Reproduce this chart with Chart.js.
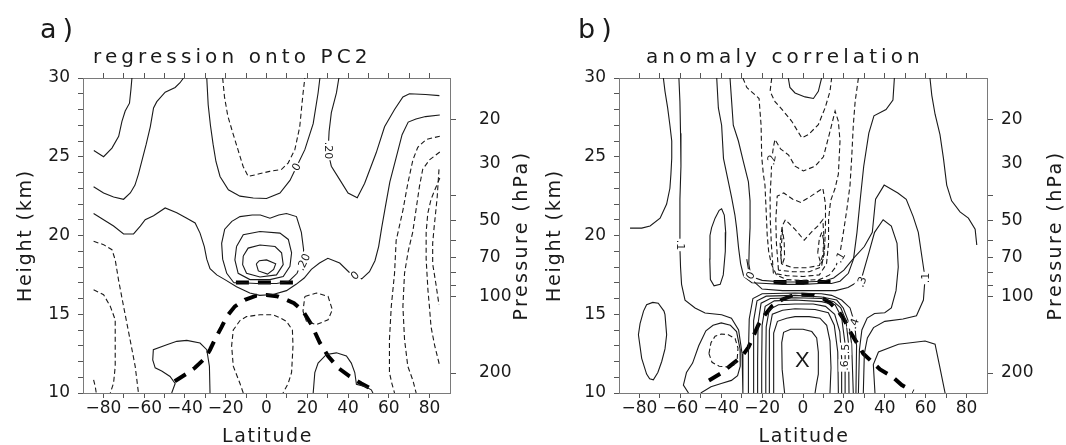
<!DOCTYPE html>
<html>
<head>
<meta charset="utf-8">
<script src="https://cdn.jsdelivr.net/npm/chart.js@4.4.1/dist/chart.umd.min.js"></script>
<style>
  html, body { margin: 0; padding: 0; background: #fff; }
  #wrap { position: relative; width: 1066px; height: 445px; overflow: hidden; }
  .panel { position: absolute; top: 0; width: 533px; height: 445px; }
</style>
</head>
<body>
<div id="wrap">
  <div class="panel" style="left:0"><canvas id="ca" width="533" height="445"></canvas></div>
  <div class="panel" style="left:533px"><canvas id="cb" width="533" height="445"></canvas></div>
</div>
<script>
// ---------- axes ----------
const latTicks = [-80,-70,-60,-50,-40,-30,-20,-10,0,10,20,30,40,50,60,70,80];
const latLabels = [-80,-60,-40,-20,0,20,40,60,80];
const kmTicks = [10,11,12,13,14,15,16,17,18,19,20,21,22,23,24,25,26,27,28,29,30];
const kmLabels = [10,15,20,25,30];
const pressureTicks = [20,30,40,50,60,70,80,90,100,200];
const pressureLabels = [20,30,50,70,100,200];
const pressureMarks = [20,40,50,60,70,80,90,100,200];
const scaleHeightKm = 7;

// ---------- panel a: regression onto PC2 (latitude, km) ----------
const aPos1 = [[-84.7,25.4],[-79.9,25.0],[-75.8,25.55],[-72.5,26.3],[-70.9,27.25],[-69.3,27.9],[-67.2,28.4],[-66.5,29.26],[-66.0,30]];
const aPos2 = [[-84.8,23.1],[-79.9,22.7],[-75,22.45],[-70.1,22.3],[-66.8,22.7],[-64.5,23.2],[-62.8,23.9],[-61,24.8],[-59,25.8],[-57,26.9],[-55.4,28.1],[-53.8,28.5],[-49.7,29.1],[-44.8,29.4],[-42.4,29.7],[-40.7,30]];
const aZero = [[-84.8,21.4],[-79.9,21.0],[-75,20.6],[-70.1,20.1],[-65.2,20.1],[-61.9,20.6],[-59.5,21.0],[-55.4,21.25],[-49.7,21.75],[-44,21.45],[-39.1,21.1],[-35,20.8],[-32.6,20.15],[-30.5,19.3],[-29.3,18.5],[-27.7,17.9],[-24.4,17.5],[-20.4,17.2],[-14.7,16.75],[-8.2,16.35],[-3.3,16.2],[3.2,16.25],[9.8,16.5],[14.5,16.9],[18.5,17.3],[22,17.85],[26,18.25],[30.1,18.55],[35.9,18.25],[40.9,17.62],[43.4,17.45],[46.7,17.25],[50.5,17.7],[53.2,18.4],[55,19.3],[56.5,20.5],[58.4,21.9],[60.5,23.4],[63.5,24.9],[66.5,26.4],[69.5,27.2],[73.3,27.4],[78,27.55],[85,27.65]];
const aTopZero = [[-29.3,30],[-28.6,28.3],[-27.5,27],[-26.2,25.8],[-24.8,24.7],[-22.8,23.75],[-18.7,22.9],[-13,22.5],[-6.5,22.38],[0,22.35],[6.6,22.7],[11.5,23.5],[14.7,24.35],[18.8,25.45],[22.9,27.1],[25.3,29.05],[26.2,30]];
const aPos20 = [[35.5,30],[34.3,29.05],[31.8,27.8],[30.7,26.6],[30.2,25.3],[31.8,24.4],[35.9,23.55],[40,22.7],[44.5,22.4],[48.1,23.3],[53.8,25.25],[57.9,26.9],[62.8,28],[66.9,28.8],[70.1,29.0],[78,28.95],[84.8,28.88]];
const aMax1 = [[-16,17.0],[-19.5,17.6],[-21.5,18.5],[-22,19.5],[-20.5,20.4],[-17,20.9],[-13,21.2],[-7,21.3],[-3,21.3],[1.7,21.1],[6,21.3],[9.8,21.4],[14.7,21.2],[17.1,20.2],[18.2,19.1],[17.8,18.5],[15,17.6],[11,17.1],[5,16.95],[-5,16.95],[-12,17.0],[-16,17.0]];
const aMax2 = [[-14.7,19.3],[-11.4,20.05],[-3.2,20.25],[6.6,20.15],[10.7,19.75],[12.3,18.9],[11.5,18.05],[8.2,17.4],[1.7,17.2],[-8.1,17.2],[-13.9,17.6],[-15.5,18.45],[-14.7,19.3]];
const aMax3 = [[-11.4,18.7],[-9,19.2],[-3.2,19.4],[4.2,19.3],[7.4,18.9],[8.2,18.15],[4.9,17.5],[-3.2,17.37],[-9.8,17.6],[-11.7,18.15],[-11.4,18.7]];
const aMax4 = [[-5,18.2],[-3.5,18.4],[0,18.45],[4.5,18.2],[3.5,17.85],[0.5,17.55],[-4,17.75],[-5,18.2]];
const aBlobW = [[-46.5,10],[-44.8,10.6],[-47.3,11.05],[-51.4,11.4],[-54.6,11.6],[-55.8,12.1],[-55.5,12.75],[-48.9,13.07],[-44,13.28],[-39.1,13.34],[-32.6,13.17],[-29.3,12.75],[-28,11.7],[-27.7,10]];
const aBlobE = [[22.9,10],[23.7,11.3],[25.3,11.9],[29.4,12.45],[34.3,12.55],[39.2,12.35],[41.6,11.9],[43.3,11.3],[44.1,10.55],[48.1,10.42],[51.4,10.2],[52.2,10]];
const aNegTop = [[-21.5,30],[-20.6,28.8],[-19,27.6],[-16.5,26.5],[-14,25.45],[-11.5,24.4],[-9,23.75],[-4,23.9],[1.5,24.07],[7.4,24.2],[10.6,24.6],[13.9,25.45],[16.3,26.9],[17.9,29.0],[18.8,30]];
const aNegW1 = [[-84.8,19.63],[-79.9,19.42],[-75.8,19.1],[-74.2,18.46],[-72.6,17.2],[-70.1,15.5],[-66.9,13.38],[-64.4,11.69],[-62.8,10]];
const aNegW2 = [[-84.8,16.56],[-79.9,16.24],[-76.6,15.5],[-74.2,14.65],[-74.2,13.38],[-74.2,11.69],[-75.0,10.63],[-76.6,10]];
const aNegW3 = [[-84.8,10.84],[-84,10.42],[-83.5,10]];
const aNegLow = [[-11.4,10],[-13,10.6],[-16.3,11.7],[-17.1,13],[-16.3,14],[-13,14.6],[-9.8,14.85],[-3.2,14.97],[3.3,14.97],[7,14.75],[9.8,14.55],[12.7,14.0],[13.0,13.0],[12.3,11.3],[10.6,10.6],[8.1,10]];
const aNegRing = [[18.8,16.13],[24.5,16.35],[30.2,16.13],[32.3,15.29],[30.2,14.65],[24.5,14.34],[19.6,14.55],[17.9,15.2],[18.8,16.13]];
const aNegE1 = [[85,26.3],[78.3,26.1],[74.2,25.6],[71.8,24.8],[69.3,23.3],[66.9,21.6],[64.5,20.2],[63.6,19.7],[62.8,17.6],[61.2,15.5],[60.3,13.4],[60.3,11.3],[61.5,10.6],[62.8,10]];
const aNegE2 = [[85,25.3],[79.9,24.8],[76.6,24.2],[75,23.1],[73.3,21.6],[71.7,20.2],[69.5,19],[67.7,17.6],[66.9,15.5],[67.7,13.4],[69.3,11.7],[71.8,10.8],[73.4,10]];
const aNegE3 = [[85,23.65],[83.2,23.1],[80.7,22.3],[79.1,21.4],[78.3,20.2],[78.3,18.5],[79.2,16.5],[79.9,15.5],[80.7,14.2],[82.5,13.0],[84.8,11.8]];
const aNegE4 = [[84.6,24.2],[83.7,22.4],[82.2,20.5],[81.5,19.5],[81.5,18.2],[83,17.0],[84.6,15.6]];
const aTropo = [[-45,10.75],[-39.5,11.2],[-35.1,11.6],[-30.2,12.2],[-27.7,12.75],[-25.3,13.4],[-22,14.2],[-19.5,14.85],[-15.5,15.5],[-10.6,15.92],[-5,16.18],[0,16.22],[5,16.15],[10,15.9],[13.5,15.7],[17.9,15.2],[22,14.35],[26.1,13.2],[30.2,12.35],[35.1,11.6],[40.8,11.05],[46.5,10.6],[53,10.15]];
const aTropoUpper = [[-15,17.02],[0,17.02],[16.5,17.02]];
const aTags = [
  {text: '0', lat: 14.7, km: 24.35, rot: -60},
  {text: '.20', lat: 30.2, km: 25.4, rot: 90},
  {text: '.20', lat: 18.2, km: 18.3, rot: -65},
  {text: '0', lat: 43.4, km: 17.45, rot: -45}
];

// ---------- panel b: anomaly correlation ----------
const bPosW1 = [[-68.3,30],[-67.5,29.15],[-66.2,28.1],[-65.1,27.0],[-64.2,26],[-64.2,24.9],[-64.6,23.9],[-65.1,23],[-66.7,22],[-69.9,21.1],[-74.8,20.6],[-78.9,20.47],[-84.6,20.47]];
const bPosW2 = [[-60.7,30],[-60.2,28.5],[-59.9,26.5],[-59.7,24.4],[-60.2,22.3],[-60.2,20.5],[-60.2,19.2],[-59.9,18],[-59.4,16.9],[-57.7,15.9],[-52.8,15.4],[-47.9,15.08],[-39.8,14.97],[-35,14.75],[-31.5,14.0],[-29.8,12.5],[-29.4,10]];
const bPosOval = [[-80.5,13.7],[-79.7,14.4],[-78,15.2],[-76.5,15.6],[-73.5,15.75],[-70.8,15.7],[-68,15.2],[-67.5,14.97],[-66.7,13.7],[-67.5,12.8],[-69.1,12.0],[-71,11.3],[-73.2,10.84],[-75,10.9],[-76.5,11.2],[-78.9,12.2],[-80.5,13.7]];
const bPosTall = [[-45.5,20],[-44.7,20.5],[-43,21.1],[-41,21.6],[-39.8,21.7],[-38.5,21.3],[-37.8,20.2],[-38,19],[-39,17.5],[-40.5,16.9],[-43.5,16.8],[-45.3,17.2],[-45.6,18.5],[-45.5,20]];
const bPosLoop = [[-56,10],[-58.5,10.5],[-57,11.3],[-54,11.9],[-51,13],[-47.5,13.95],[-44,14.3],[-40,14.45],[-35.5,14.3],[-32.5,13.9],[-30.8,12.8],[-30.7,11.7],[-32,11.1],[-35,10.8],[-40,10.6],[-45,10.4],[-50,10]];
const bPosArc1 = [[-42.2,30],[-41.4,28.1],[-39.8,27],[-38.9,24.9],[-36.5,23.4],[-34.9,22.4],[-33.3,21.3],[-32.5,20.5],[-31.5,19.2],[-30.5,18.2],[-29,17.4],[-25,17.0],[-18,16.95],[-10,16.9],[0,16.9],[8,16.95],[13.9,16.95],[18.1,17.1],[22.2,17.6],[24.7,18.5],[26.4,20.2],[28,22.3],[29.7,24.4],[32.2,26.5],[34.7,27.6],[40.6,28.0],[44,28.6],[44.7,30]];
const bPosArc2 = [[-35.7,30],[-34.9,28.5],[-34.1,27],[-31.6,26],[-29.2,24.7],[-26.7,23.4],[-25.9,22.2],[-25.9,20.5],[-26.3,19.3],[-26.5,18.2],[-25.5,17.4],[-20,17.15],[-10,17.05],[0,17.05],[10,17.1],[15,17.3],[20,17.8],[25,18.6],[30,19.3],[33.9,20.2],[35.5,22.3],[39.7,23.2],[46.4,22.7],[50.5,22.3],[53.9,21.2],[56.4,20.2],[58.9,18.0],[59.7,17.3],[58.9,15.9],[55.5,14.9],[48.9,14.7],[40,14.55],[34.5,14.15],[31.5,13.5],[30,12.5],[29.5,10]];
const bPosHump = [[-27.5,18.5],[-26,17.3],[-20,16.6],[-10,16.5],[0,16.5],[10,16.5],[16,16.5],[22,16.7],[26,17.0],[28.7,17.3],[32,18.8],[35,20.2],[39.2,21.0],[43.2,20.6],[46,19.5],[46.6,18],[45.5,16.5],[43.2,15.4],[40,15.1],[35,15.05],[31.4,14.76],[28.8,14.0],[27.6,12.75],[27.1,10]];
const bPosFarE = [[62.1,30],[63,28.9],[64.6,27.7],[67,26.4],[68.7,24.9],[70.3,23.2],[72.7,22.2],[76.8,21.5],[80.9,21.1],[84.2,20.4],[85,19.4]];
const bPosLowE = [[35.2,10],[34.4,11.8],[36.9,12.6],[46.7,13.1],[59.7,13.3],[64.6,13.1],[67,11.6],[69.5,10]];
const bPosCap = [[-7.2,30],[-6.4,29.4],[-3.9,29.05],[1,28.8],[5.1,28.7],[7.5,29.15],[9.1,30]];
const bCore1 = [[-9,10],[-10.2,11.5],[-10.4,13.2],[-9.5,13.85],[-6,14.05],[0,14.05],[4.3,13.9],[6.7,13.5],[7.5,12.6],[7.5,11.2],[6.5,10.5],[5.9,10]];
const bCore2 = [[-14.5,10],[-14.5,12],[-14.2,13.8],[-12.5,14.55],[-8,14.75],[-3.9,14.85],[3,14.85],[8.3,14.75],[11.6,14.3],[13.2,13.3],[13.7,11.6],[13.2,10]];
const bCore3 = [[-16.6,10],[-16.6,12],[-16.3,14],[-15,15],[-10,15.25],[-3.9,15.35],[5.9,15.3],[12.4,15.1],[15.3,14.3],[17,12.6],[17.3,10]];
const bCore4 = [[-18.2,10],[-18.2,12],[-18,14.2],[-16.5,15.3],[-12,15.6],[-3.9,15.65],[5,15.65],[11,15.5],[15.5,15.0],[18,13.9],[18.9,12.2],[18.9,10]];
const bCore5 = [[-20.2,10],[-20.2,12],[-20,14.3],[-18.5,15.5],[-14,15.85],[-3.9,15.9],[9.1,15.8],[15.7,15.6],[18.9,14.8],[20.6,13.1],[20.6,10]];
const bCore6 = [[-22.2,10],[-22.2,12],[-22,14.4],[-20.5,15.7],[-16,16.0],[-3.9,16.05],[9.1,16.0],[15,15.8],[18.5,15.4],[21,14.6],[22.3,13.1],[22.5,10]];
const bCore7 = [[-24.3,10],[-24.3,12.5],[-24,14.6],[-22.5,15.85],[-18,16.15],[-3.9,16.2],[9.1,16.1],[16.5,15.9],[19.7,15.4],[22.2,14.55],[23.8,13.1],[24.6,10]];
const bCore8 = [[-26.7,10],[-26.7,12.5],[-26.3,14.7],[-24.5,16.0],[-20,16.3],[-3.9,16.35],[9,16.3],[14,16.2],[18.9,15.9],[23,15.4],[25.3,14.4],[26.2,13],[25.9,10]];
const bNegOuter = [[-29.4,30],[-27.5,29.4],[-21.5,28.7],[-20.5,27],[-20.2,25],[-19.4,23.9],[-18.6,23.2],[-18,21.5],[-17.5,20],[-16.8,19],[-15.5,18.2],[-13,17.5],[-8,17.2],[0,17.15],[8,17.2],[13,17.5],[16,18],[18,18.8],[20,20.4],[21.5,21.7],[23,23.2],[23.8,24.9],[24.6,27],[25.5,28.5],[27.1,30]];
const bNegTop = [[-15.3,30],[-16.1,29.15],[-13.7,28.5],[-9.6,27.9],[-5.5,27.25],[-2,26.5],[-0.6,26.2],[2.6,26.4],[7.5,27.04],[10.8,28.1],[13.2,29.15],[14,30]];
const bNeg2 = [[-14.5,17.6],[-15.5,19.5],[-16,21],[-16.1,22.5],[-15.5,24],[-15.3,24.8],[-14.5,25.6],[-13.7,26.1],[-11,25.5],[-7,25.1],[-3.9,24.4],[0.2,24.1],[5.9,24.4],[10,25],[13,26.5],[15.7,27.9],[17.3,27.25],[18.1,26],[17.3,23.9],[15.7,23],[13.5,22.2],[12.5,21],[12.5,19.5],[11.5,18.2],[8,17.5],[0,17.4],[-8,17.45],[-14.5,17.6]];
const bNeg3 = [[-12,17.8],[-13,19.5],[-13.3,21],[-12.6,22.5],[-9.4,22.7],[-5,22.3],[-1.1,22.1],[3.9,22.5],[9.7,23.0],[11,22],[11,20.5],[10.5,19],[9,18],[3,17.7],[-5,17.7],[-12,17.8]];
const bNeg4 = [[-10.5,18.2],[-11.2,19.5],[-10.2,20.6],[-8.6,21.0],[-4,20.4],[0.6,19.7],[4,20.2],[7.2,20.6],[9.7,21.0],[10.2,20],[9.8,18.8],[8,18.1],[2,17.95],[-5,17.95],[-10.5,18.2]];
const bNegCellW = [[-10.8,18.5],[-10.5,19.5],[-10.0,20.3],[-9.2,19.6],[-9.0,18.6],[-9.8,18.3],[-10.8,18.5]];
const bNegCellE = [[7.2,18.9],[8,19.8],[9.2,20.2],[10.3,19.6],[10.2,18.6],[8.8,18.2],[7.2,18.9]];
const bNegLow = [[-46,12.5],[-45,13.2],[-43,13.6],[-40,13.75],[-36.5,13.7],[-33.2,13.45],[-31.8,12.85],[-32.2,12.1],[-34,11.75],[-37,11.65],[-41,11.7],[-44.5,11.95],[-46,12.5]];
const bTropo = [[-46,10.8],[-39.8,11.27],[-34.9,11.8],[-30,12.3],[-26.7,12.9],[-24.3,13.6],[-21.8,14.34],[-18.6,14.97],[-15.3,15.5],[-10.4,15.92],[-5,16.2],[0,16.24],[5,16.2],[10,16.0],[13.5,15.7],[17.3,15.2],[20.6,14.55],[23,13.9],[26.3,13.2],[29.5,12.5],[33.6,12.0],[37.7,11.5],[43.4,11.06],[48.3,10.5],[54,10.1]];
const bTropoUpper = [[-14.4,17.05],[0,17.05],[16.4,17.05]];
const bTags = [
  {text: '.1', lat: -59.8, km: 19.4, rot: 90},
  {text: '.2', lat: -15.3, km: 24.8, rot: -80},
  {text: '0', lat: -25.6, km: 17.45, rot: -60},
  {text: '.1', lat: 18.2, km: 18.6, rot: -60},
  {text: '.3', lat: 28.7, km: 17.05, rot: -70},
  {text: '.4', lat: 25.0, km: 14.4, rot: -70},
  {text: '.5', lat: 20.7, km: 12.8, rot: -90},
  {text: '.6', lat: 20.3, km: 11.75, rot: -90},
  {text: '.1', lat: 59.9, km: 17.3, rot: -90}
];
const bCentreMark = {text: 'X', lat: -0.3, km: 12.05};

// ---------- drawing ----------
const FONT = '"DejaVu Sans", sans-serif';
const INK = '#1a1a1a';
const FRAME = '#7a7a7a';

const toXY = pts => pts.map(p => ({x: p[0], y: p[1]}));
const minus = v => (v < 0 ? '\u2212' + Math.abs(v) : String(v));

function contourSets(solid, dashed, tropo) {
  const out = [];
  solid.forEach(s => out.push({data: toXY(s), showLine: true, pointRadius: 0, borderWidth: 1.1, borderColor: INK, fill: false, tension: 0}));
  dashed.forEach(s => out.push({data: toXY(s), showLine: true, pointRadius: 0, borderWidth: 1.1, borderColor: INK, borderDash: [5, 3], fill: false, tension: 0}));
  tropo.forEach(s => out.push({data: toXY(s), showLine: true, pointRadius: 0, borderWidth: 4, borderColor: '#000', borderDash: [13, 9], borderCapStyle: 'butt', fill: false, tension: 0}));
  return out;
}

const panelText = {
  id: 'panelText',
  afterDraw(chart, args, o) {
    const ctx = chart.ctx, a = chart.chartArea;
    const put = (text, x, y, size, spacing, rot, align) => {
      ctx.save();
      ctx.font = size + 'px ' + FONT;
      ctx.letterSpacing = spacing + 'px';
      ctx.fillStyle = INK;
      ctx.textAlign = align || 'center';
      ctx.textBaseline = 'alphabetic';
      ctx.translate(x, y);
      if (rot) ctx.rotate(rot);
      ctx.fillText(text, 0, 0);
      ctx.restore();
    };
    const midY = (a.top + a.bottom) / 2;
    put(o.letter, o.letterX, 38, 27, 6, 0, 'left');
    put(o.title, o.titleX, 63, 20, 4.1, 0, 'left');
    put('Latitude', (a.left + a.right) / 2 + 1, 442, 19, 1.6, 0, 'center');
    put('Height (km)', o.heightX, midY, 19, 1.8, -Math.PI / 2, 'center');
    put('Pressure (hPa)', o.pressureX, midY, 19, 2.4, -Math.PI / 2, 'center');
  }
};

const contourTags = {
  id: 'contourTags',
  afterDatasetsDraw(chart, args, o) {
    const ctx = chart.ctx, xs = chart.scales.x, ys = chart.scales.y;
    ctx.save();
    ctx.font = '11px ' + FONT;
    ctx.textAlign = 'center';
    ctx.textBaseline = 'middle';
    (o.tags || []).forEach(t => {
      const px = xs.getPixelForValue(t.lat), py = ys.getPixelForValue(t.km);
      const w = ctx.measureText(t.text).width + 2;
      ctx.save();
      ctx.translate(px, py);
      ctx.rotate(t.rot * Math.PI / 180);
      ctx.fillStyle = '#fff';
      ctx.fillRect(-w / 2, -6, w, 12);
      ctx.fillStyle = INK;
      ctx.fillText(t.text, 0, 0.5);
      ctx.restore();
    });
    if (o.mark) {
      const px = xs.getPixelForValue(o.mark.lat), py = ys.getPixelForValue(o.mark.km);
      ctx.font = '300 22px "Liberation Sans", ' + FONT;
      ctx.fillStyle = INK;
      ctx.fillText(o.mark.text, px, py);
    }
    ctx.restore();
  }
};

function latAxis(position, size, labelled) {
  return {
    type: 'linear', position, min: -90, max: 90,
    afterBuildTicks: s => { s.ticks = latTicks.map(v => ({value: v})); },
    afterFit: s => { s.height = size; },
    ticks: {
      display: labelled, autoSkip: false, maxRotation: 0, minRotation: 0, padding: 2,
      color: INK, font: {family: FONT, size: 17, lineHeight: 1},
      callback: v => (latLabels.includes(v) ? minus(v) : '')
    },
    grid: {drawOnChartArea: false, drawTicks: true, tickLength: 5, tickColor: '#555', tickWidth: 1},
    border: {display: true, color: FRAME, width: 1}
  };
}

function makePanel(id, geo, solid, dashed, tropo, tags, mark, text) {
  new Chart(document.getElementById(id), {
    type: 'scatter',
    data: {datasets: contourSets(solid, dashed, tropo)},
    plugins: [panelText, contourTags],
    options: {
      responsive: false, animation: false, events: [],
      layout: {padding: 0, autoPadding: false},
      plugins: {legend: {display: false}, tooltip: {enabled: false}, panelText: text, contourTags: {tags, mark}},
      scales: {
        x: latAxis('bottom', 52, true),
        xTop: latAxis('top', 78, false),
        y: {
          type: 'linear', position: 'left', min: 10, max: 30,
          afterBuildTicks: s => { s.ticks = kmTicks.map(v => ({value: v})); },
          afterFit: s => { s.width = geo.left; },
          ticks: {
            autoSkip: false, padding: 8, color: INK, font: {family: FONT, size: 17, lineHeight: 1},
            callback: v => (kmLabels.includes(v) ? String(v) : '')
          },
          grid: {drawOnChartArea: false, drawTicks: true, tickLength: 5, tickColor: '#555'},
          border: {display: true, color: FRAME, width: 1}
        },
        yP: {
          type: 'linear', position: 'right', min: 10, max: 30,
          afterBuildTicks: s => { s.ticks = pressureTicks.map(p => ({value: scaleHeightKm * Math.log(1000 / p)})); },
          afterFit: s => { s.width = geo.right; },
          ticks: {
            autoSkip: false, padding: geo.labelGap, color: INK, font: {family: FONT, size: 17, lineHeight: 1},
            callback: (v, i) => (pressureLabels.includes(pressureTicks[i]) ? String(pressureTicks[i]) : '')
          },
          grid: {
            drawOnChartArea: false, drawTicks: true, tickLength: 6,
            tickColor: c => (pressureMarks.includes(pressureTicks[c.index]) ? '#555' : 'rgba(0,0,0,0)')
          },
          border: {display: true, color: FRAME, width: 1}
        }
      }
    }
  });
}

makePanel('ca', {left: 83, right: 83, labelGap: 23},
  [aPos1, aPos2, aZero, aTopZero, aPos20, aMax1, aMax2, aMax3, aMax4, aBlobW, aBlobE],
  [aNegTop, aNegW1, aNegW2, aNegW3, aNegLow, aNegRing, aNegE1, aNegE2, aNegE3, aNegE4],
  [aTropo, aTropoUpper], aTags, null,
  {letter: 'a)', letterX: 40, title: 'regression onto PC2', titleX: 93, heightX: 31, pressureX: 527});

makePanel('cb', {left: 86, right: 79, labelGap: 8},
  [bPosW1, bPosW2, bPosOval, bPosTall, bPosLoop, bPosArc1, bPosArc2, bPosHump, bPosFarE, bPosLowE, bPosCap,
   bCore1, bCore2, bCore3, bCore4, bCore5, bCore6, bCore7, bCore8],
  [bNegOuter, bNegTop, bNeg2, bNeg3, bNeg4, bNegCellW, bNegCellE, bNegLow],
  [bTropo, bTropoUpper], bTags, bCentreMark,
  {letter: 'b)', letterX: 45, title: 'anomaly correlation', titleX: 113, heightX: 27, pressureX: 528});
</script>
</body>
</html>
